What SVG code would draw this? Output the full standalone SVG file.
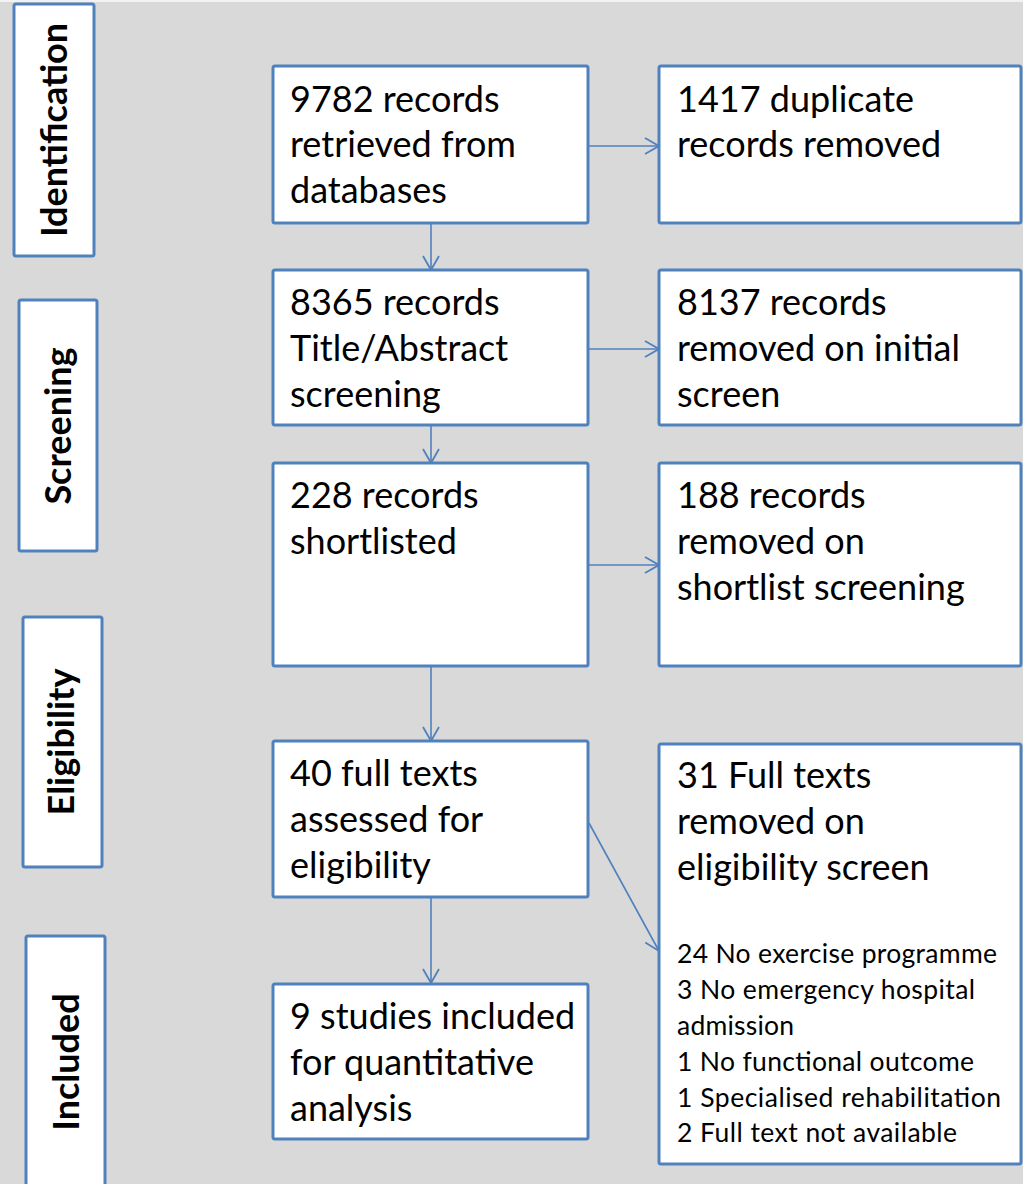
<svg xmlns="http://www.w3.org/2000/svg" width="1023" height="1184" viewBox="0 0 1023 1184">
<defs>
<style>
.bg{fill:#d9d9d9}
.box{fill:#ffffff;stroke:#4f81bd;stroke-width:3}
.t{font-family:Lato,"Liberation Sans",sans-serif;font-size:36px;fill:#000}
.s{font-family:Lato,"Liberation Sans",sans-serif;font-size:26.5px;fill:#000}
.lab{font-family:Lato,"Liberation Sans",sans-serif;font-size:36px;font-weight:bold;fill:#000;text-anchor:middle}
.c{fill:none;stroke:#4f81bd;stroke-width:1.6}
</style>
<marker id="ah" viewBox="0 0 16 18" refX="15" refY="9" markerWidth="16" markerHeight="18" markerUnits="userSpaceOnUse" orient="auto">
<path d="M1,1 L15,9 L1,17" fill="none" stroke="#4f81bd" stroke-width="1.8"/>
</marker>
</defs>
<rect class="bg" x="0" y="0" width="1023" height="1184"/>
<rect x="0" y="0" width="1023" height="2" fill="#f2f2f2"/>

<g id="label-identification">
<rect class="box" x="14" y="4" width="80" height="252" rx="2"/>
<text class="lab" transform="translate(67,130) rotate(-90)">Identification</text>
</g>
<g id="label-screening">
<rect class="box" x="19" y="300" width="78" height="251" rx="2"/>
<text class="lab" transform="translate(71,426) rotate(-90)">Screening</text>
</g>
<g id="label-eligibility">
<rect class="box" x="23" y="617" width="79" height="250" rx="2"/>
<text class="lab" transform="translate(74,742) rotate(-90)">Eligibility</text>
</g>
<g id="label-included">
<rect class="box" x="26" y="936" width="79" height="252" rx="2"/>
<text class="lab" transform="translate(79,1062) rotate(-90)">Included</text>
</g>

<g id="connectors">
<line class="c" x1="589" y1="146" x2="659" y2="146" marker-end="url(#ah)"/>
<line class="c" x1="431" y1="224" x2="431" y2="270" marker-end="url(#ah)"/>
<line class="c" x1="589" y1="349" x2="659" y2="349" marker-end="url(#ah)"/>
<line class="c" x1="431" y1="425" x2="431" y2="463" marker-end="url(#ah)"/>
<line class="c" x1="589" y1="565" x2="659" y2="565" marker-end="url(#ah)"/>
<line class="c" x1="431" y1="667" x2="431" y2="741" marker-end="url(#ah)"/>
<line class="c" x1="589" y1="823" x2="659" y2="951" marker-end="url(#ah)"/>
<line class="c" x1="431" y1="898" x2="431" y2="983" marker-end="url(#ah)"/>
</g>

<g id="n-retrieved">
<rect class="box" x="273" y="66" width="315" height="157" rx="2"/>
<text class="t" x="290" y="112">9782 records</text>
<text class="t" x="290" y="157">retrieved from</text>
<text class="t" x="290" y="203">databases</text>
</g>
<g id="n-duplicates">
<rect class="box" x="659" y="66" width="362" height="157" rx="2"/>
<text class="t" x="677" y="112">1417 duplicate</text>
<text class="t" x="677" y="157">records removed</text>
</g>
<g id="n-screening">
<rect class="box" x="273" y="270" width="315" height="155" rx="2"/>
<text class="t" x="290" y="315">8365 records</text>
<text class="t" x="290" y="361">Title/Abstract</text>
<text class="t" x="290" y="407">screening</text>
</g>
<g id="n-initial-removed">
<rect class="box" x="659" y="270" width="362" height="155" rx="2"/>
<text class="t" x="677" y="315">8137 records</text>
<text class="t" x="677" y="361">removed on initial</text>
<text class="t" x="677" y="407">screen</text>
</g>
<g id="n-shortlisted">
<rect class="box" x="273" y="463" width="315" height="203" rx="2"/>
<text class="t" x="290" y="508">228 records</text>
<text class="t" x="290" y="554">shortlisted</text>
</g>
<g id="n-shortlist-removed">
<rect class="box" x="659" y="463" width="362" height="203" rx="2"/>
<text class="t" x="677" y="508">188 records</text>
<text class="t" x="677" y="554">removed on</text>
<text class="t" x="677" y="600">shortlist screening</text>
</g>
<g id="n-fulltexts">
<rect class="box" x="273" y="741" width="315" height="156" rx="2"/>
<text class="t" x="290" y="786">40 full texts</text>
<text class="t" x="290" y="832">assessed for</text>
<text class="t" x="290" y="878">eligibility</text>
</g>
<g id="n-eligibility-removed">
<rect class="box" x="659" y="744" width="362" height="420" rx="2"/>
<text class="t" x="677" y="788">31 Full texts</text>
<text class="t" x="677" y="834">removed on</text>
<text class="t" x="677" y="880">eligibility screen</text>
<text class="s" x="677" y="963" textLength="320" lengthAdjust="spacing">24 No exercise programme</text>
<text class="s" x="677" y="999" textLength="298" lengthAdjust="spacing">3 No emergency hospital</text>
<text class="s" x="677" y="1035" textLength="117" lengthAdjust="spacing">admission</text>
<text class="s" x="677" y="1071" textLength="297" lengthAdjust="spacing">1 No functional outcome</text>
<text class="s" x="677" y="1107" textLength="324" lengthAdjust="spacing">1 Specialised rehabilitation</text>
<text class="s" x="677" y="1142" textLength="280" lengthAdjust="spacing">2 Full text not available</text>
</g>
<g id="n-included">
<rect class="box" x="273" y="984" width="315" height="155" rx="2"/>
<text class="t" x="290" y="1029">9 studies included</text>
<text class="t" x="290" y="1075">for quantitative</text>
<text class="t" x="290" y="1121">analysis</text>
</g>
</svg>
